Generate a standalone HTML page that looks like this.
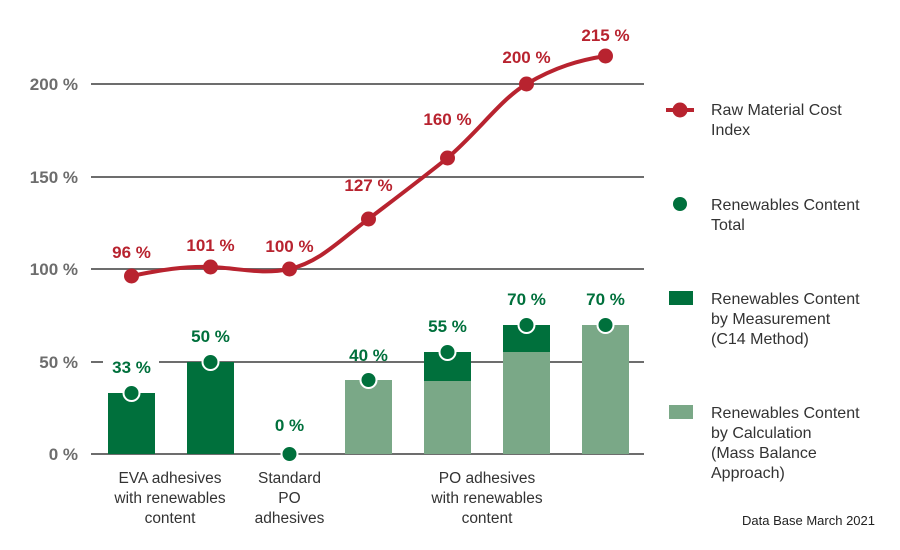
<!DOCTYPE html>
<html><head><meta charset="utf-8"><style>
html,body{margin:0;padding:0;background:#fff;}
svg{display:block;font-family:"Liberation Sans",Arial,sans-serif;}
</style></head><body>
<svg width="900" height="550" viewBox="0 0 900 550" xmlns="http://www.w3.org/2000/svg">
<g stroke="#6d6d6d" stroke-width="2">
<line x1="91" y1="84" x2="644" y2="84"/>
<line x1="91" y1="177" x2="644" y2="177"/>
<line x1="91" y1="269" x2="644" y2="269"/>
<line x1="91" y1="362" x2="103" y2="362"/><line x1="159" y1="362" x2="644" y2="362"/>
<line x1="91" y1="454" x2="644" y2="454"/>
</g>
<g font-size="17" font-weight="bold" fill="#6d6d6d" text-anchor="end">
<text x="78" y="90">200 %</text>
<text x="78" y="183">150 %</text>
<text x="78" y="275">100 %</text>
<text x="78" y="368">50 %</text>
<text x="78" y="460">0 %</text>
</g>
<g>
<rect x="108" y="393" width="47" height="61" fill="#00703c"/>
<rect x="187" y="362" width="47" height="92" fill="#00703c"/>
<rect x="345" y="380" width="47" height="74" fill="#7aa887"/>
<rect x="424" y="381" width="47" height="73" fill="#7aa887"/>
<rect x="424" y="352" width="47" height="29" fill="#00703c"/>
<rect x="503" y="352" width="47" height="102" fill="#7aa887"/>
<rect x="503" y="325" width="47" height="27" fill="#00703c"/>
<rect x="582" y="325" width="47" height="129" fill="#7aa887"/>
</g>
<g fill="#00703c" stroke="#fff" stroke-width="2">
<circle cx="131.5" cy="393" r="8"/><circle cx="210.5" cy="362" r="8"/>
<circle cx="289.5" cy="454" r="8"/><circle cx="368.5" cy="380" r="8"/>
<circle cx="447.5" cy="352" r="8"/><circle cx="526.5" cy="325" r="8"/>
<circle cx="605.5" cy="325" r="8"/>
</g>
<g font-size="17" font-weight="bold" fill="#00703c" text-anchor="middle">
<text x="131.5" y="373">33 %</text><text x="210.5" y="342">50 %</text>
<text x="289.5" y="431">0 %</text><text x="368.5" y="361">40 %</text>
<text x="447.5" y="332">55 %</text><text x="526.5" y="305">70 %</text>
<text x="605.5" y="305">70 %</text>
</g>
<path d="M131.5,276 C160,270 185,266 210.5,267 C240,268 260,275 289.5,269 C320,262 340,240 368.5,219 C400,195 420,180 447.5,158 C480,130 500,100 526.5,84 C555,67 580,60 605.5,56" fill="none" stroke="#b8232f" stroke-width="4"/>
<g fill="#b8232f">
<circle cx="131.5" cy="276" r="7.5"/><circle cx="210.5" cy="267" r="7.5"/>
<circle cx="289.5" cy="269" r="7.5"/><circle cx="368.5" cy="219" r="7.5"/>
<circle cx="447.5" cy="158" r="7.5"/><circle cx="526.5" cy="84" r="7.5"/>
<circle cx="605.5" cy="56" r="7.5"/>
</g>
<g font-size="17" font-weight="bold" fill="#b8232f" text-anchor="middle">
<text x="131.5" y="258">96 %</text><text x="210.5" y="251">101 %</text>
<text x="289.5" y="252">100 %</text><text x="368.5" y="191">127 %</text>
<text x="447.5" y="125">160 %</text><text x="526.5" y="63">200 %</text>
<text x="605.5" y="41">215 %</text>
</g>
<g font-size="15.5" fill="#333" text-anchor="middle">
<text x="170" y="483">EVA adhesives</text><text x="170" y="503">with renewables</text><text x="170" y="523">content</text>
<text x="289.5" y="483">Standard</text><text x="289.5" y="503">PO</text><text x="289.5" y="523">adhesives</text>
<text x="487" y="483">PO adhesives</text><text x="487" y="503">with renewables</text><text x="487" y="523">content</text>
</g>
<text x="875" y="525" font-size="13" fill="#222" text-anchor="end">Data Base March 2021</text>
<line x1="666" y1="110" x2="694" y2="110" stroke="#b8232f" stroke-width="4"/>
<circle cx="680" cy="110" r="7.5" fill="#b8232f"/>
<circle cx="680" cy="204" r="7" fill="#00703c"/>
<rect x="669" y="291" width="24" height="14" fill="#00703c"/>
<rect x="669" y="405" width="24" height="14" fill="#7aa887"/>
<g font-size="16" fill="#333">
<text x="711" y="115">Raw Material Cost</text><text x="711" y="135">Index</text>
<text x="711" y="210">Renewables Content</text><text x="711" y="230">Total</text>
<text x="711" y="304">Renewables Content</text><text x="711" y="324">by Measurement</text><text x="711" y="344">(C14 Method)</text>
<text x="711" y="418">Renewables Content</text><text x="711" y="438">by Calculation</text><text x="711" y="458">(Mass Balance</text><text x="711" y="478">Approach)</text>
</g>
</svg>
</body></html>
